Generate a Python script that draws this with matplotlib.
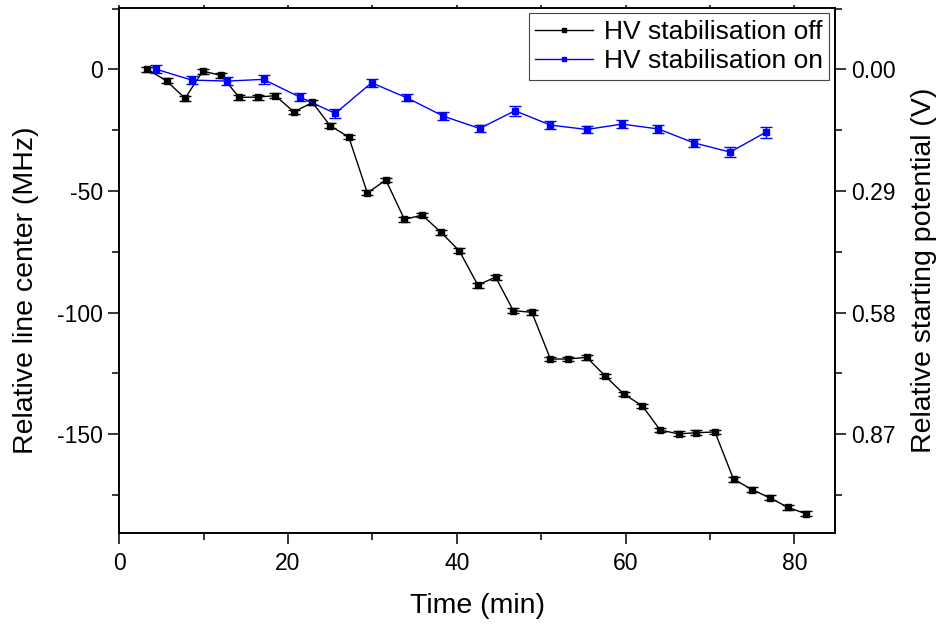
import matplotlib
matplotlib.use('Agg')
import matplotlib.pyplot as plt
from matplotlib.lines import Line2D
from matplotlib.ticker import MultipleLocator

plt.rcParams['font.family'] = ['Liberation Sans', 'DejaVu Sans']
plt.rcParams['axes.unicode_minus'] = False

# HV stabilisation off
t_off = [3.3, 5.6, 7.8, 9.9, 12.1, 14.2, 16.4, 18.5, 20.7, 22.9, 25.0, 27.2,
         29.4, 31.6, 33.8, 35.9, 38.1, 40.3, 42.5, 44.6, 46.7, 48.9, 51.1,
         53.2, 55.4, 57.6, 59.8, 62.0, 64.1, 66.3, 68.4, 70.6, 72.8, 75.0,
         77.1, 79.2, 81.4]
f_off = [0.1, -4.7, -11.9, -0.7, -2.5, -11.5, -11.4, -10.8, -17.5, -13.6,
         -23.2, -27.8, -50.8, -45.5, -61.7, -59.9, -66.9, -74.6, -88.7,
         -85.4, -99.2, -99.9, -119.1, -119.1, -118.4, -126.1, -133.5, -138.4,
         -148.3, -149.9, -149.4, -149.1, -168.5, -172.8, -176.2, -180.0,
         -182.8]
e_off = [1.0] * len(t_off)

# HV stabilisation on
t_on = [4.35, 8.6, 12.8, 17.1, 21.4, 25.6, 29.9, 34.1, 38.4, 42.7, 46.9,
        51.1, 55.4, 59.6, 63.9, 68.1, 72.4, 76.6]
f_on = [0.1, -4.4, -4.8, -4.1, -11.4, -18.1, -5.5, -11.7, -19.2, -24.3,
        -17.0, -22.9, -24.7, -22.5, -24.5, -30.2, -34.0, -25.9]
e_on = [1.6, 1.6, 1.6, 2.0, 1.6, 2.0, 1.6, 1.5, 1.6, 1.5, 2.0, 1.6, 1.6,
        1.6, 1.6, 1.6, 2.2, 2.4]

# right axis: relative starting potential
volt_per_mhz = 0.0058
v_ticks = [0.0, 0.29, 0.58, 0.87]
v_labels = ['0.00', '0.29', '0.58', '0.87']

fig = plt.figure(figsize=(9.39, 6.24), dpi=100)
ax = fig.add_axes([0.127, 0.146, 0.762, 0.841])

ax.errorbar(t_off, f_off, yerr=e_off, color='black', lw=1.0, marker='s',
            ms=4, capsize=4.5, capthick=1.0, elinewidth=1.0, zorder=3)
ax.errorbar(t_on, f_on, yerr=e_on, color='#0000ff', lw=1.0, marker='s',
            ms=4, capsize=4.5, capthick=1.0, elinewidth=1.0, zorder=4)

ylo, yhi = -190.6, 25.2
ax.set_xlim(0, 84.8)
ax.set_ylim(ylo, yhi)
ax.xaxis.set_major_locator(MultipleLocator(20))
ax.xaxis.set_minor_locator(MultipleLocator(10))
ax.yaxis.set_major_locator(MultipleLocator(50))
ax.yaxis.set_minor_locator(MultipleLocator(25))
ax.tick_params(which='major', direction='out', length=8, width=1.1,
               labelsize=16.5, top=False)
ax.tick_params(which='minor', direction='out', length=5, width=1.1)
ax.tick_params(axis='x', which='both', top=True, labeltop=False)
for s in ax.spines.values():
    s.set_linewidth(1.2)
# short ticks along the top edge
ax.tick_params(axis='x', which='both', direction='out', pad=6)
for tk in ax.xaxis.get_major_ticks() + ax.xaxis.get_minor_ticks():
    tk.tick2line.set_markersize(2.5)

ax.set_xlabel('Time (min)', fontsize=20.5, labelpad=13)
ax.set_ylabel('Relative line center (MHz)', fontsize=20.5, labelpad=13)
ax.yaxis.label.set_y(0.463)

ax2 = ax.twinx()
ax2.set_ylim(-ylo * volt_per_mhz, -yhi * volt_per_mhz)
ax2.set_yticks(v_ticks)
ax2.set_yticklabels(v_labels)
ax2.yaxis.set_minor_locator(MultipleLocator(0.145))
ax2.tick_params(which='major', direction='out', length=8, width=1.1,
                labelsize=16.5)
ax2.tick_params(which='minor', direction='out', length=5, width=1.1)
ax2.set_ylabel('Relative starting potential (V)', fontsize=20.5, labelpad=11.5)
for s in ax2.spines.values():
    s.set_linewidth(1.2)

handles = [Line2D([], [], color='black', lw=1.0, marker='s', ms=3),
           Line2D([], [], color='#0000ff', lw=1.0, marker='s', ms=3)]
leg = ax2.legend(handles, ['HV stabilisation off', 'HV stabilisation on'],
                 loc='upper right', fontsize=19, fancybox=False,
                 framealpha=1, edgecolor='#444444', borderaxespad=0.2,
                 handlelength=2.2, borderpad=0.25, labelspacing=0.2,
                 handletextpad=0.4)
leg.get_frame().set_linewidth(0.8)
leg.set_zorder(10)

fig.savefig('out.png', dpi=100)
